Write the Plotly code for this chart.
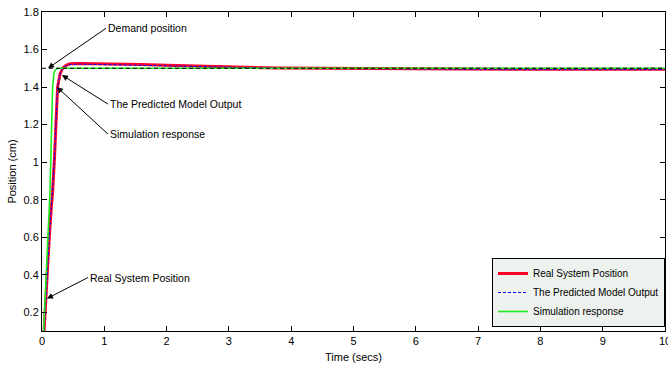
import plotly.graph_objects as go

# ---- data ----
t_real = [0, 0.02, 0.05, 0.08, 0.117, 0.15, 0.17, 0.2, 0.25, 0.29, 0.33, 0.38, 0.45, 0.6, 0.9,
          1.2, 1.6, 2.0, 2.4, 2.8, 3.2, 3.8, 4.5, 5.0, 5.6, 6.5, 7.5, 8.5, 10]
y_real = [0.0, 0.02, 0.2, 0.4, 0.6, 0.76, 0.84, 1.02, 1.4, 1.47, 1.5, 1.515, 1.524, 1.526, 1.525,
          1.523, 1.52, 1.516, 1.513, 1.51, 1.505, 1.501, 1.5, 1.499, 1.496, 1.495, 1.495, 1.495, 1.495]
y_pred = [0.0, 0.02, 0.19, 0.39, 0.6, 0.77, 0.85, 1.03, 1.4, 1.47, 1.5, 1.513, 1.52, 1.522, 1.521,
          1.519, 1.516, 1.513, 1.51, 1.507, 1.503, 1.5, 1.499, 1.498, 1.495, 1.494, 1.494, 1.494, 1.494]
t_sim = [0, 0.02, 0.04, 0.07, 0.1, 0.128, 0.14, 0.155, 0.17, 0.19, 0.21, 0.25, 0.3, 1, 10]
y_sim = [0, 0.05, 0.2, 0.4, 0.6, 0.84, 1.0, 1.2, 1.4, 1.47, 1.49, 1.5, 1.5, 1.5, 1.5]
t_dem = [0, 10]
y_dem = [1.5, 1.5]

x_ticks = [0, 1, 2, 3, 4, 5, 6, 7, 8, 9, 10]
y_ticks = [0.2, 0.4, 0.6, 0.8, 1.0, 1.2, 1.4, 1.6, 1.8]
y_ticktext = ["0.2", "0.4", "0.6", "0.8", "1", "1.2", "1.4", "1.6", "1.8"]

# annotation: (text, head_x, head_y, offset_x_px, offset_y_px)
notes = [
    ("Demand position", 0.096, 1.5, 58, -40),
    ("The Predicted Model Output", 0.32, 1.464, 46, 29),
    ("Simulation response", 0.24, 1.40, 51, 47),
    ("Real System Position", 0.08, 0.273, 41, -21),
]

FONT = "Liberation Sans, Arial, sans-serif"

fig = go.Figure()
fig.add_trace(go.Scatter(x=t_real, y=y_real, mode="lines", name="Real System Position",
                         line=dict(color="rgb(255,0,40)", width=3)))
fig.add_trace(go.Scatter(x=t_real, y=y_pred, mode="lines", name="The Predicted Model Output",
                         line=dict(color="rgb(0,0,255)", width=1, dash="3px,2px")))
fig.add_trace(go.Scatter(x=t_sim, y=y_sim, mode="lines", name="Simulation response",
                         line=dict(color="rgb(30,235,30)", width=1.6)))
fig.add_trace(go.Scatter(x=t_dem, y=y_dem, mode="lines", name="Demand position", showlegend=False,
                         line=dict(color="black", width=1, dash="4px,3px")))

for text, hx, hy, ox, oy in notes:
    fig.add_annotation(x=hx, y=hy, text=text, showarrow=True, ax=ox, ay=oy,
                       xanchor="left", yanchor="middle", arrowhead=2, arrowsize=1.2,
                       arrowwidth=1, arrowcolor="black",
                       font=dict(family=FONT, size=10.5, color="black"))

fig.update_layout(
    width=668, height=368,
    margin=dict(l=42, r=3, t=12, b=37, pad=0),
    paper_bgcolor="white", plot_bgcolor="white",
    font=dict(family=FONT, size=11, color="black"),
    legend=dict(x=1, y=0.0125, xanchor="right", yanchor="bottom",
                bgcolor="rgb(238,242,238)", bordercolor="black", borderwidth=1,
                font=dict(family=FONT, size=10, color="black"),
                tracegroupgap=0, itemwidth=30),
    xaxis=dict(range=[0, 10], tickvals=x_ticks, ticks="inside", ticklen=5, tickcolor="black",
               showline=True, linecolor="black", linewidth=1, mirror="ticks",
               showgrid=False, zeroline=False, ticklabeloverflow="allow", automargin=False,
               title=dict(text="Time (secs)", font=dict(size=11), standoff=7)),
    yaxis=dict(range=[0.1, 1.8], tickvals=y_ticks, ticktext=y_ticktext, ticks="inside",
               ticklen=5, tickcolor="black", automargin=False,
               showline=True, linecolor="black", linewidth=1, mirror="ticks",
               showgrid=False, zeroline=False,
               title=dict(text="Position (cm)", font=dict(size=11), standoff=4)),
)

fig.write_html("out.html")
